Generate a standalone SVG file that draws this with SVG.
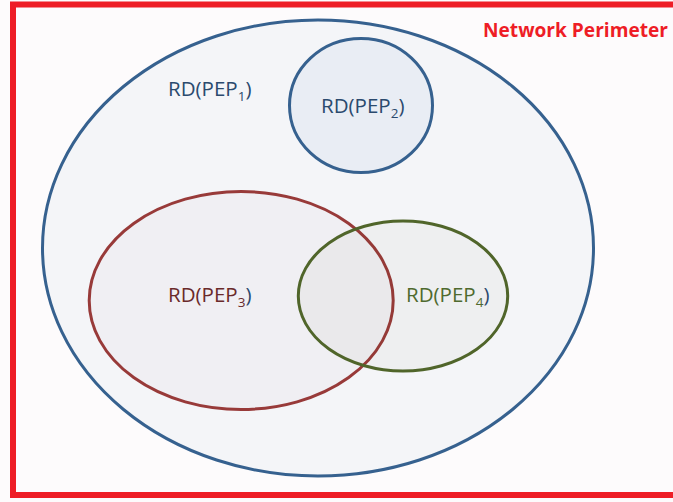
<svg xmlns="http://www.w3.org/2000/svg" width="673" height="502" viewBox="0 0 673 502">
<style>
.lbl{font-family:"Open Sans","Liberation Sans",sans-serif;font-size:20.5px}
.sub{font-size:13.5px}
.blue{fill:#2B4A6E}
.ring{stroke-width:3}
</style>
<rect x="0" y="0" width="673" height="502" fill="#FDFBFC"/>
<g id="perimeter">
<rect x="13" y="4.5" width="680" height="490.5" fill="none" stroke="#EE1D26" stroke-width="6"/>
<text x="483" y="37" font-family="'Open Sans','Liberation Sans',sans-serif" font-size="19" font-weight="bold" fill="#EE1D26" textLength="185" lengthAdjust="spacingAndGlyphs">Network Perimeter</text>
</g>
<g id="pep1">
<ellipse cx="318" cy="248" rx="275.5" ry="228" fill="#F4F5F8" stroke="#36618F" class="ring"/>
<text class="lbl blue" x="168" y="96">RD(PEP<tspan class="sub" dy="5">1</tspan><tspan dy="-5">)</tspan></text>
</g>
<g id="pep2">
<ellipse cx="361" cy="105.5" rx="71.5" ry="67" fill="#E9EDF4" stroke="#36618F" class="ring"/>
<text class="lbl blue" x="321" y="113">RD(PEP<tspan class="sub" dy="5">2</tspan><tspan dy="-5">)</tspan></text>
</g>
<g id="pep3">
<ellipse cx="241.2" cy="300.5" rx="152" ry="109" fill="#8A4A50" fill-opacity="0.03" stroke="#983A39" class="ring"/>
<text class="lbl" x="168" y="302" fill="#6A2A2A">RD(PEP<tspan class="sub" dy="5">3</tspan><tspan dy="-5" fill="#2B4A6E">)</tspan></text>
</g>
<g id="pep4">
<ellipse cx="403" cy="296" rx="104.7" ry="75" fill="#4F6228" fill-opacity="0.035" stroke="#50652A" class="ring"/>
<text class="lbl" x="406" y="302" fill="#4F6A2E">RD(PEP<tspan class="sub" dy="5">4</tspan><tspan dy="-5" fill="#2B4A6E">)</tspan></text>
</g>
<g id="connectors"></g>
</svg>
